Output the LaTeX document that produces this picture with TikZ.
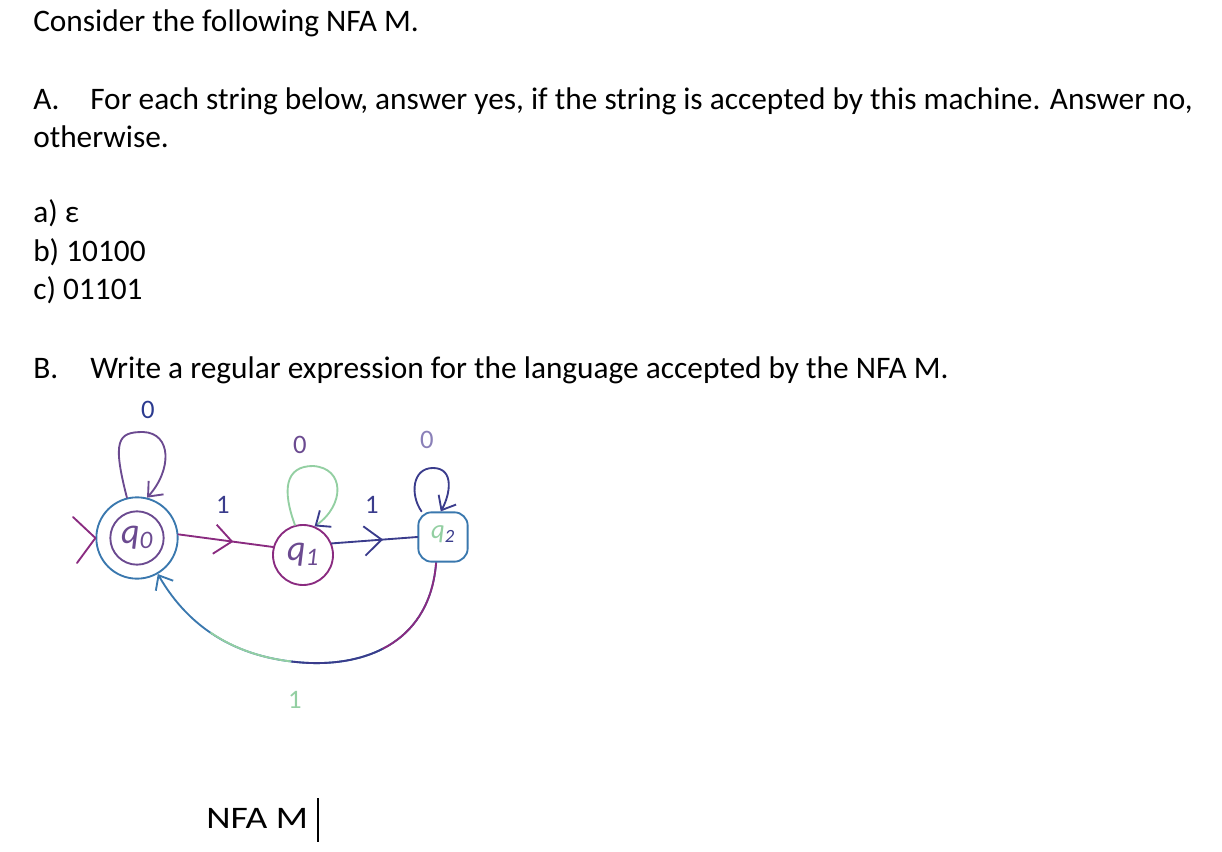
\documentclass[tikz,border=0pt]{standalone}
\usepackage{fontspec}
\setmainfont{Carlito}
\usetikzlibrary{arrows.meta,decorations.markings}
\definecolor{hblue}{HTML}{2B3A8F}
\definecolor{hpurple}{HTML}{6B4A90}
\definecolor{hmag}{HTML}{8A2B80}
\definecolor{hteal}{HTML}{3A78AE}
\definecolor{hgreen}{HTML}{93CFA2}
\definecolor{hnavy}{HTML}{3A3C8C}
\definecolor{hlav}{HTML}{8A80B8}
\tikzset{
  txt/.style={anchor=base west, inner sep=0pt, font=\fontsize{23.5}{28}\selectfont},
  hand/.style={line width=1.4pt, line cap=round, line join=round},
  lbl/.style={inner sep=0pt, font=\fontsize{20}{24}\selectfont},
  qlbl/.style={inner sep=0pt, font=\fontsize{27}{30}\selectfont\itshape},
  midarrow/.style={postaction={decorate, decoration={markings,
     mark=at position #1 with {\arrow{Straight Barb[length=13pt,width=22pt,line width=1.4pt]}}}}},
  tip/.style={-{Straight Barb[length=9pt,width=15pt,line width=1.4pt,#1]}},
  tip/.default={},
}
\newcommand{\arcpath}{(q2.-105) .. controls (430,640) and (370,665) .. (310,663)
   .. controls (240,660) and (190,630) .. (q0.-60)}
\begin{document}
\begin{tikzpicture}[x=0.75pt,y=-0.75pt]
\useasboundingbox (0,0) rectangle (1222,852);
% text
\node[txt] (t1) at (33,32) {Consider the following NFA M.};
\node[txt] (tA) at (33,110) {A.};
\node[txt] (tA2) at (90,110) {For each string below, answer yes, if the string is accepted by this machine. Answer no,};
\node[txt] (tA3) at (33,148) {otherwise.};
\node[txt] (ta) at (33,223) {a) ε};
\node[txt] (tb) at (33,262) {b) 10100};
\node[txt] (tc) at (33,300) {c) 01101};
\node[txt] (tB) at (33,379) {B.};
\node[txt] (tB2) at (90,379) {Write a regular expression for the language accepted by the NFA M.};
\node[txt] (cap) at (206,828) {\scalebox{1.2}[1]{NFA M}};
\draw[line width=1pt] (318,798) -- (318,842);
% states
\node[hand, draw=hteal, circle, minimum size=61pt] (q0) at (137,538) {};
\draw[hand, hpurple] (q0.center) circle[radius=20pt];
\node[qlbl, text=hpurple] at (q0.center) {q\textsubscript{0}};
\node[hand, draw=hmag, circle, minimum size=45pt] (q1) at (303,555) {};
\node[qlbl, text=hpurple] at (q1.center) {q\textsubscript{1}};
\node[hand, draw=hteal, rectangle, rounded corners=10pt, minimum size=37pt] (q2) at (443,537) {};
\node[inner sep=0pt, font=\fontsize{20}{24}\selectfont\itshape, text=hgreen] at ([yshift=2pt]q2.center) {q\textsubscript{\textcolor{hnavy}{2}}};
% initial marker
\coordinate (i1) at (73,517);
\coordinate (i2) at (77,563);
\draw[hand, hmag] (i1) -- (q0.180) -- (i2);
% loops
\draw[hand, hpurple, tip] (q0.104) .. controls (112,440) and (118,432) .. (143,432)
   .. controls (172,433) and (172,470) .. (q0.76);
\node[lbl, text=hblue] (l0) at (148,410) {0};
\draw[hand, hgreen, tip={color=hnavy}] (q1.105) .. controls (282,490) and (285,466) .. (313,466)
   .. controls (345,468) and (345,505) .. (q1.68);
\node[lbl, text=hpurple] (l1) at (300,445) {0};
\draw[hand, hnavy, tip] (q2.130) .. controls (410,495) and (412,468) .. (433,468)
   .. controls (455,468) and (450,495) .. (q2.95);
\node[lbl, text=hlav] (l2) at (427,440) {0};
% transitions
\draw[hand, hmag, midarrow=0.58] (q0.5) -- (q1.165);
\node[lbl, text=hnavy] (e1) at (223,505) {1};
\draw[hand, hnavy, midarrow=0.6] (q1.22) -- (q2.west);
\node[lbl, text=hnavy] (e2) at (372,505) {1};
\draw[hand, hteal, tip] \arcpath;
\draw[hand, line cap=butt, hmag, dash pattern=on 80pt off 1000pt] \arcpath;
\draw[hand, line cap=butt, hnavy, dash pattern=on 0pt off 80pt on 70pt off 1000pt] \arcpath;
\draw[hand, line cap=butt, hgreen, dash pattern=on 0pt off 150pt on 65pt off 1000pt] \arcpath;
\node[lbl, text=hgreen] (e3) at (295,700) {1};
\end{tikzpicture}
\end{document}
